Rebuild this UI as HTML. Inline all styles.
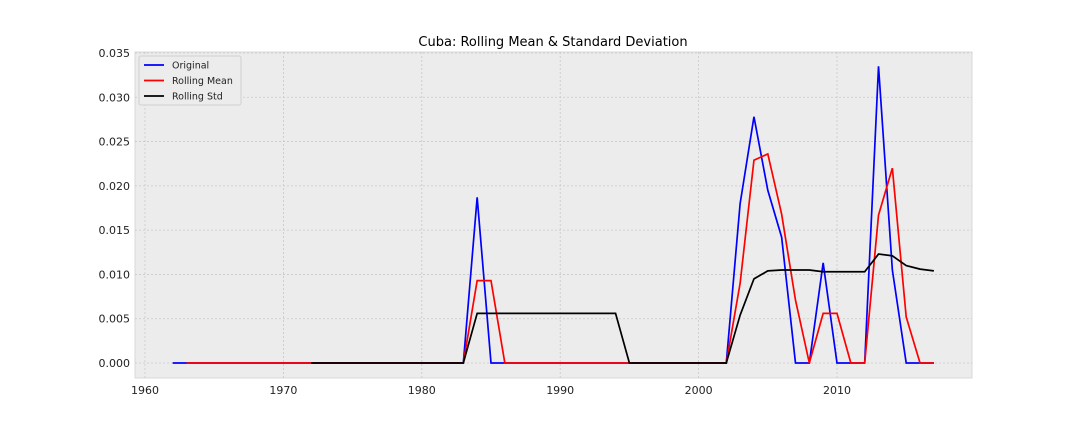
<!DOCTYPE html>
<html><head><meta charset="utf-8"><style>
body{margin:0;background:#fff;font-family:"DejaVu Sans",sans-serif;}
svg text{font-family:"DejaVu Sans",sans-serif;}
</style></head><body>
<svg id="chart" width="1080" height="432" xmlns="http://www.w3.org/2000/svg"></svg>
<script>
const years=[];for(let y=1962;y<=2017;y++)years.push(y);
const original=[0,0,0,0,0,0,0,0,0,0,0,0,0,0,0,0,0,0,0,0,0,0,0.0187,0,0,0,0,0,0,0,0,0,0,0,0,0,0,0,0,0,0,0.018,0.0278,0.0195,0.0142,0,0,0.0113,0,0,0,0.0335,0.0105,0,0,0];
const meanYears=years.slice(1);
const rollingMean=[0,0,0,0,0,0,0,0,0,0,0,0,0,0,0,0,0,0,0,0,0,0.0093,0.0093,0,0,0,0,0,0,0,0,0,0,0,0,0,0,0,0,0,0.009,0.0229,0.0236,0.0168,0.0071,0,0.0056,0.0056,0,0,0.0167,0.022,0.0052,0,0];
const stdYears=years.slice(10);
const rollingStd=[0,0,0,0,0,0,0,0,0,0,0,0,0.0056,0.0056,0.0056,0.0056,0.0056,0.0056,0.0056,0.0056,0.0056,0.0056,0.0056,0,0,0,0,0,0,0,0,0.0054,0.0095,0.0104,0.0105,0.0105,0.0105,0.0103,0.0103,0.0103,0.0103,0.0123,0.0121,0.011,0.0106,0.0104];
const xTicks=[1960,1970,1980,1990,2000,2010];
const yTicks=[0,0.005,0.01,0.015,0.02,0.025,0.03,0.035];
const L=135,R=972,T=52,B=378;
const X=v=>145+(v-1960)*(837-145)/50;
const Y=v=>363-v*(363-53)/0.035;
const svg=document.getElementById('chart');const NS='http://www.w3.org/2000/svg';
function mk(t,a,p){const e=document.createElementNS(NS,t);for(const k in a)e.setAttribute(k,a[k]);(p||svg).appendChild(e);return e;}
const bg=mk('rect',{x:L,y:T,width:R-L,height:B-T,fill:'#ececec',stroke:'#d8d8d8'});


xTicks.forEach(t=>{const x=X(t);
mk('line',{x1:x,x2:x,y1:T,y2:B,stroke:'#c8c8c8','stroke-dasharray':'2,2','stroke-width':0.8});
const tx=mk('text',{x:x,y:B+16,'font-size':11,'text-anchor':'middle',fill:'#222'});tx.textContent=t;

});
yTicks.forEach(t=>{const y=Y(t);
mk('line',{x1:L,x2:R,y1:y,y2:y,stroke:'#c8c8c8','stroke-dasharray':'2,2','stroke-width':0.8});
const tx=mk('text',{x:L-5,y:y+4,'font-size':11,'text-anchor':'end',fill:'#222'});tx.textContent=t.toFixed(3);

});
function line(xs,vs,c,n){const p=mk('polyline',{points:xs.map((x,i)=>X(x)+','+Y(vs[i])).join(' '),fill:'none',stroke:c,'stroke-width':1.7});

}
line(years,original,'#0000ff','original-line');
line(meanYears,rollingMean,'#ff0000','rolling-mean-line');
line(stdYears,rollingStd,'#000000','rolling-std-line');
const title=mk('text',{x:553,y:46,'font-size':13,'text-anchor':'middle',fill:'#000'});title.textContent='Cuba: Rolling Mean & Standard Deviation';


const lg=mk('g',{});


mk('rect',{x:139,y:56,width:102,height:49,fill:'#ececec',stroke:'#d0d0d0',rx:2},lg);
[['Original','#0000ff'],['Rolling Mean','#ff0000'],['Rolling Std','#000']].forEach((e,i)=>{const y=65+i*15.5;
mk('line',{x1:144,x2:164,y1:y,y2:y,stroke:e[1],'stroke-width':1.7},lg);
const t=mk('text',{x:172,y:y+3.5,'font-size':9.5,fill:'#222'},lg);t.textContent=e[0];

});
</script>
</body></html>
